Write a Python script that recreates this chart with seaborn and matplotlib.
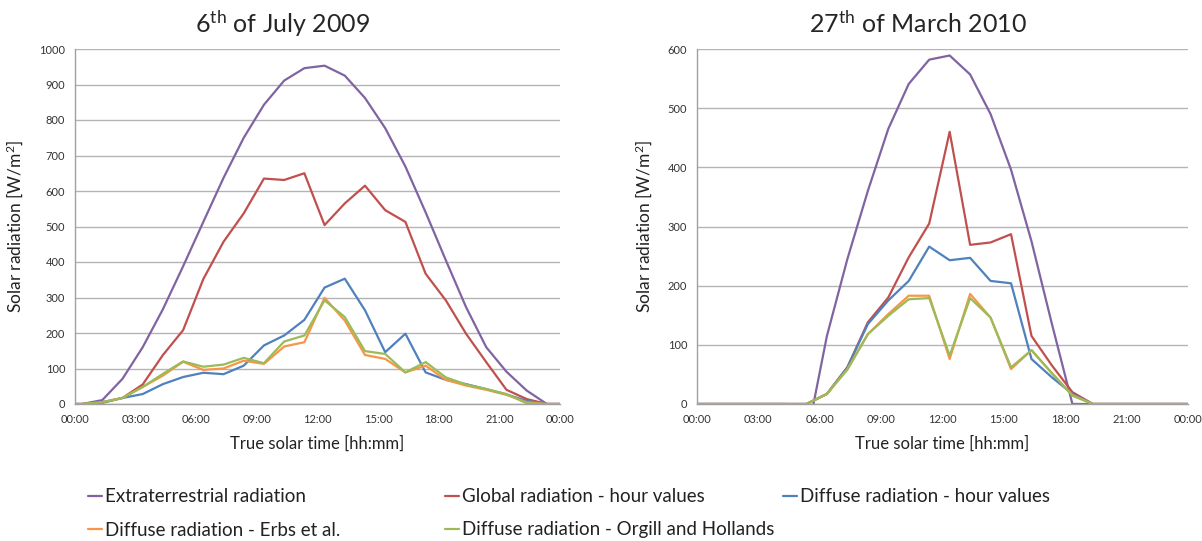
import matplotlib
matplotlib.use("Agg")
import numpy as np
import pandas as pd
import seaborn as sns
import matplotlib.pyplot as plt

# true solar time of each hourly value (plus the day borders)
times = ["00:00", "00:21", "01:21", "02:21", "03:21", "04:21", "05:21", "06:21",
         "07:21", "08:21", "09:21", "10:21", "11:21", "12:21", "13:21", "14:21",
         "15:21", "16:21", "17:21", "18:21", "19:21", "20:21", "21:21", "22:21",
         "23:21", "24:00"]

names = ["Extraterrestrial radiation", "Global radiation - hour values",
         "Diffuse radiation - hour values", "Diffuse radiation - Erbs et al.",
         "Diffuse radiation - Orgill and Hollands"]
colors = ["#8064A2", "#C0504D", "#4F81BD", "#F79646", "#9BBB59"]

# 6th of July 2009
julExtra = [0, 0, 11, 71, 160, 267, 388, 513, 637, 750, 843, 911, 946, 953, 925, 862,
            777, 669, 540, 405, 273, 160, 91, 38, 0, 0]
julGlobal = [0, 0, 5, 17, 55, 138, 208, 352, 457, 537, 635, 631, 650, 504, 565, 615,
             546, 513, 367, 292, 198, 118, 40, 14, 0, 0]
julDiffuse = [0, 0, 3, 17, 28, 56, 76, 88, 84, 108, 165, 193, 237, 328, 353, 264,
              146, 198, 89, 68, 56, 42, 27, 9, 0, 0]
julErbs = [0, 0, 5, 17, 48, 80, 119, 96, 100, 122, 113, 162, 174, 299, 235, 138,
           127, 89, 108, 68, 52, 40, 26, 5, 0, 0]
julOrgill = [0, 0, 5, 17, 48, 85, 120, 105, 111, 130, 115, 176, 193, 292, 245, 149,
             141, 89, 118, 75, 55, 42, 28, 2, 0, 0]

# 27th of March 2010
marExtra = [0, 0, 0, 0, 0, 0, -60, 115, 245, 360, 465, 541, 582, 589, 557, 490,
            396, 275, 135, 0, 0, 0, 0, 0, 0, 0]
marGlobal = [0, 0, 0, 0, 0, 0, 0, 17, 62, 138, 180, 248, 305, 460, 269, 273,
             287, 115, 65, 20, 0, 0, 0, 0, 0, 0]
marDiffuse = [0, 0, 0, 0, 0, 0, 0, 17, 62, 135, 175, 208, 266, 243, 247, 208,
              204, 76, 45, 17, 0, 0, 0, 0, 0, 0]
marErbs = [0, 0, 0, 0, 0, 0, 0, 17, 59, 118, 152, 183, 183, 76, 186, 146,
           59, 91, 52, 15, 0, 0, 0, 0, 0, 0]
marOrgill = [0, 0, 0, 0, 0, 0, 0, 17, 58, 118, 149, 177, 179, 82, 179, 146,
             62, 91, 52, 14, 0, 0, 0, 0, 0, 0]

xticks = ["00:00", "03:00", "06:00", "09:00", "12:00", "15:00", "18:00", "21:00", "00:00"]


def toHours(t):
	h, m = t.split(":")
	return int(h) + int(m) / 60


def makeFrame(series):
	hours = [toHours(t) for t in times]
	parts = []
	for name, vals in zip(names, series):
		parts.append(pd.DataFrame({"hour": hours, "value": vals, "series": name}))
	return pd.concat(parts, ignore_index=True)


sns.set_style("white")
plt.rcParams["font.family"] = ["Lato", "DejaVu Sans"]
plt.rcParams["mathtext.fontset"] = "custom"
plt.rcParams["mathtext.rm"] = "Lato"
plt.rcParams["mathtext.it"] = "Lato"

W, H = 1202, 541
fig = plt.figure(figsize=(W / 100, H / 100), dpi=100)
axL = fig.add_axes([75 / W, 1 - 404 / H, 485 / W, 355 / H])
axR = fig.add_axes([697 / W, 1 - 404 / H, 491 / W, 355 / H])


def drawDay(ax, df, ymax):
	sns.lineplot(data=df, x="hour", y="value", hue="series", hue_order=names,
	             palette=colors, estimator=None, sort=True, linewidth=1.6, ax=ax)
	ax.set_xlim(0, 24)
	ax.set_ylim(0, ymax)
	ax.set_xticks(range(0, 25, 3))
	ax.set_xticklabels(xticks)
	ax.set_yticks(range(0, ymax + 1, 100))
	ax.yaxis.grid(True, color="#b4b4b4", linewidth=1)
	ax.set_axisbelow(True)
	for s in ["top", "right"]:
		ax.spines[s].set_visible(False)
	for s in ["left", "bottom"]:
		ax.spines[s].set_color("#a0a0a0")
		ax.spines[s].set_linewidth(1)
	ax.tick_params(axis="both", length=4, width=1, color="#a0a0a0",
	               labelsize=8, labelcolor="#333333", pad=3)
	ax.set_xlabel("True solar time [hh:mm]", fontsize=12, color="#222222", labelpad=8)
	ax.set_ylabel("Solar radiation [W/m$^2$]", fontsize=12.5, color="#222222", labelpad=10)
	handles, labels = ax.get_legend_handles_labels()
	ax.get_legend().remove()
	return handles, labels


handles, labels = drawDay(axL, makeFrame([julExtra, julGlobal, julDiffuse, julErbs, julOrgill]), 1000)
drawDay(axR, makeFrame([marExtra, marGlobal, marDiffuse, marErbs, marOrgill]), 600)

fig.text(283 / W, 1 - 24 / H, "6$^{\\mathrm{th}}$ of July 2009", ha="center", va="center", fontsize=18)
fig.text(918 / W, 1 - 24 / H, "27$^{\\mathrm{th}}$ of March 2010", ha="center", va="center", fontsize=18)

# legend laid out like the Excel one: two rows, three columns
spots = [(88, 497), (445, 497), (783, 497), (88, 530), (445, 530)]
for hd, lb, (px, py) in zip(handles, labels, spots):
	fig.legend([hd], [lb], loc="center left", bbox_to_anchor=(px / W, 1 - py / H),
	           frameon=False, handlelength=0.75, handletextpad=0.15, borderpad=0,
	           borderaxespad=0, fontsize=13.5, labelcolor="#222222")

fig.savefig("out.png", dpi=100)
